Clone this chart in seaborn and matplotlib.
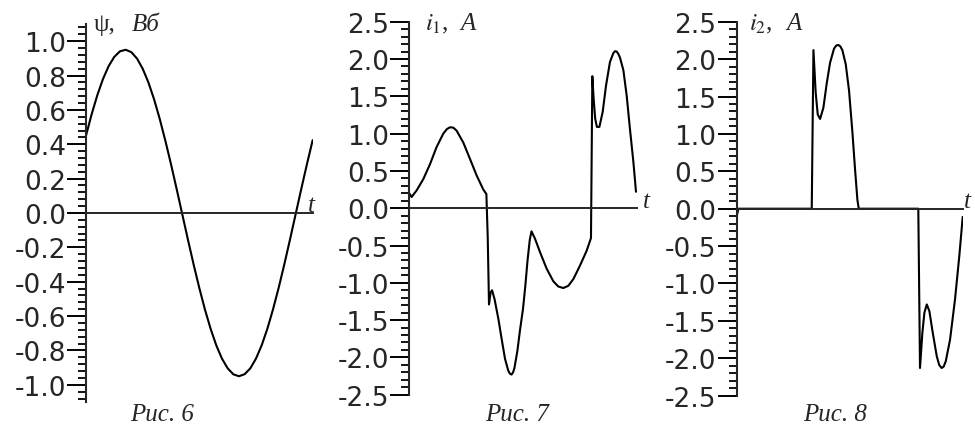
import matplotlib
matplotlib.use("Agg")
import matplotlib.pyplot as plt
import seaborn as sns
import pandas as pd

# ---------------- data ----------------
t_psi = [0.0, 0.5, 1.0, 1.5, 2.0, 2.5, 3.0, 3.5, 4.0, 4.5, 5.0, 5.5, 6.0, 6.5,
         7.0, 7.5, 8.0, 8.5, 9.0, 9.5, 10.0, 10.5, 11.0, 11.5, 12.0, 12.5,
         13.0, 13.5, 14.0, 14.5, 15.0, 15.5, 16.0, 16.5, 17.0, 17.5, 18.0,
         18.5, 19.0, 19.5, 20.0]
psi = [0.450, 0.575, 0.686, 0.780, 0.855, 0.909, 0.941, 0.950, 0.936, 0.899,
       0.840, 0.761, 0.663, 0.549, 0.421, 0.284, 0.139, -0.009, -0.157,
       -0.301, -0.437, -0.563, -0.675, -0.771, -0.848, -0.904, -0.939,
       -0.950, -0.938, -0.904, -0.847, -0.770, -0.674, -0.561, -0.435,
       -0.298, -0.154, -0.006, 0.142, 0.286, 0.424]

t_i1 = [0.00, 0.20, 0.65, 1.23, 1.82, 2.40, 2.99, 3.30, 3.58, 3.87, 4.16, 4.75,
        5.34, 5.92, 6.51, 6.78, 6.90, 7.01, 7.15, 7.28, 7.50, 7.83, 8.12, 8.42,
        8.71, 8.86, 9.00, 9.13, 9.25, 9.50, 9.75, 10.00, 10.20, 10.40, 10.60,
        10.75, 11.06, 11.50, 12.08, 12.67, 13.11, 13.55, 13.99, 14.43, 15.01,
        15.60, 15.98, 16.10, 16.20, 16.35, 16.50, 16.72, 17.01, 17.30, 17.65,
        17.95, 18.10, 18.24, 18.38, 18.53, 18.83, 19.12, 19.41, 19.71, 19.94]
i1 = [0.20, 0.15, 0.24, 0.39, 0.59, 0.82, 1.00, 1.06, 1.085, 1.08, 1.04, 0.88,
      0.66, 0.44, 0.25, 0.19, -0.40, -1.29, -1.13, -1.10, -1.22, -1.48, -1.75,
      -2.02, -2.18, -2.22, -2.23, -2.20, -2.14, -1.92, -1.62, -1.35, -1.05,
      -0.70, -0.42, -0.31, -0.41, -0.59, -0.81, -0.98, -1.05, -1.07, -1.04,
      -0.95, -0.77, -0.57, -0.40, 1.77, 1.50, 1.20, 1.09, 1.09, 1.29, 1.64,
      1.96, 2.08, 2.105, 2.10, 2.07, 2.02, 1.85, 1.51, 1.06, 0.62, 0.22]

t_i2 = [0.00, 0.15, 6.64, 6.79, 6.99, 7.17, 7.38, 7.67, 7.97, 8.26, 8.61, 8.80,
        8.99, 9.17, 9.35, 9.65, 9.94, 10.24, 10.47, 10.68, 10.80, 16.07,
        16.22, 16.43, 16.61, 16.82, 17.05, 17.35, 17.70, 17.92, 18.14, 18.32,
        18.50, 18.88, 19.32, 19.70, 20.00]
i2 = [-0.10, 0.0, 0.0, 2.12, 1.55, 1.26, 1.20, 1.35, 1.68, 1.95, 2.14, 2.18,
      2.19, 2.17, 2.12, 1.93, 1.58, 1.02, 0.53, 0.12, 0.0, 0.0, -2.13, -1.66,
      -1.39, -1.28, -1.37, -1.66, -1.97, -2.09, -2.13, -2.11, -2.04, -1.75,
      -1.21, -0.63, -0.11]

psi_ticks = [-1.0, -0.8, -0.6, -0.4, -0.2, 0.0, 0.2, 0.4, 0.6, 0.8, 1.0]
psi_ticklabels = ["-1.0", "-0.8", "-0.6", "-0.4", "-0.2", "0.0", "0.2", "0.4",
                  "0.6", "0.8", "1.0"]
i_ticks = [-2.5, -2.0, -1.5, -1.0, -0.5, 0.0, 0.5, 1.0, 1.5, 2.0, 2.5]
i_ticklabels = ["-2.5", "-2.0", "-1.5", "-1.0", "-0.5", "0.0", "0.5", "1.0",
                "1.5", "2.0", "2.5"]
captions = ["Рис. 6", "Рис. 7", "Рис. 8"]

# ---------------- style ----------------
sns.set_style("ticks")
plt.rcParams["font.family"] = ["DejaVu Sans"]
plt.rcParams["axes.unicode_minus"] = False
plt.rcParams["mathtext.fontset"] = "stix"

from matplotlib.ticker import MultipleLocator

fig = plt.figure(figsize=(9.75, 4.27), dpi=100)
ax1 = fig.add_axes([0.0882, 0.0562, 0.2325, 0.8853])
ax2 = fig.add_axes([0.4198, 0.0733, 0.2332, 0.8735])
ax3 = fig.add_axes([0.7556, 0.0710, 0.2318, 0.8758])


def style(ax, ylim, ticks, labels, minor):
    ax.set_xlim(0, 20)
    ax.set_ylim(*ylim)
    ax.patch.set_alpha(0)
    for s in ["top", "right"]:
        ax.spines[s].set_visible(False)
    ax.spines["bottom"].set_position(("data", 0))
    ax.spines["left"].set_linewidth(1.5)
    ax.spines["bottom"].set_linewidth(1.4)
    ax.set_xticks([])
    ax.set_yticks(ticks)
    ax.set_yticklabels(labels)
    ax.yaxis.set_minor_locator(MultipleLocator(minor))
    ax.tick_params(axis="y", which="major", length=13.5, width=1.4, pad=1,
                   labelsize=19, direction="out", color="black")
    ax.tick_params(axis="y", which="minor", length=5.5, width=1.3,
                   direction="out", color="black")
    ax.set_xlabel("")
    ax.set_ylabel("")


for ax, t, v in [(ax1, t_psi, psi), (ax2, t_i1, i1), (ax3, t_i2, i2)]:
    df = pd.DataFrame({"t": t, "v": v})
    sns.lineplot(data=df, x="t", y="v", ax=ax, color="black", linewidth=1.5,
                 sort=False, estimator=None)

style(ax1, (-1.1, 1.1), psi_ticks, psi_ticklabels, 0.04)
style(ax2, (-2.5, 2.5), i_ticks, i_ticklabels, 0.1)
style(ax3, (-2.5, 2.5), i_ticks, i_ticklabels, 0.1)

serif = "Liberation Serif"
# axis labels
fig.text(0.0964, 0.928, "ψ,", family=serif, fontsize=18, va="baseline")
fig.text(0.1354, 0.928, "Вб", family=serif, style="italic", fontsize=18,
         va="baseline")
fig.text(0.4359, 0.9297, r"$i_1$,", family=serif, fontsize=18, va="baseline")
fig.text(0.4718, 0.9297, "A", family=serif, style="italic", fontsize=18,
         va="baseline")
fig.text(0.7682, 0.9297, r"$i_2$,", family=serif, fontsize=18, va="baseline")
fig.text(0.8069, 0.9297, "A", family=serif, style="italic", fontsize=18,
         va="baseline")

# t labels
for x, y in [(0.3159, 0.5035), (0.6595, 0.5129), (0.9885, 0.5129)]:
    fig.text(x, y, "t", family=serif, style="italic", fontsize=18,
             va="baseline")

# captions
for x, c in zip([0.166, 0.530, 0.857], captions):
    fig.text(x, 0.014, c, family=serif, style="italic", fontsize=18,
             ha="center", va="baseline")

fig.savefig("out.png", dpi=100)
